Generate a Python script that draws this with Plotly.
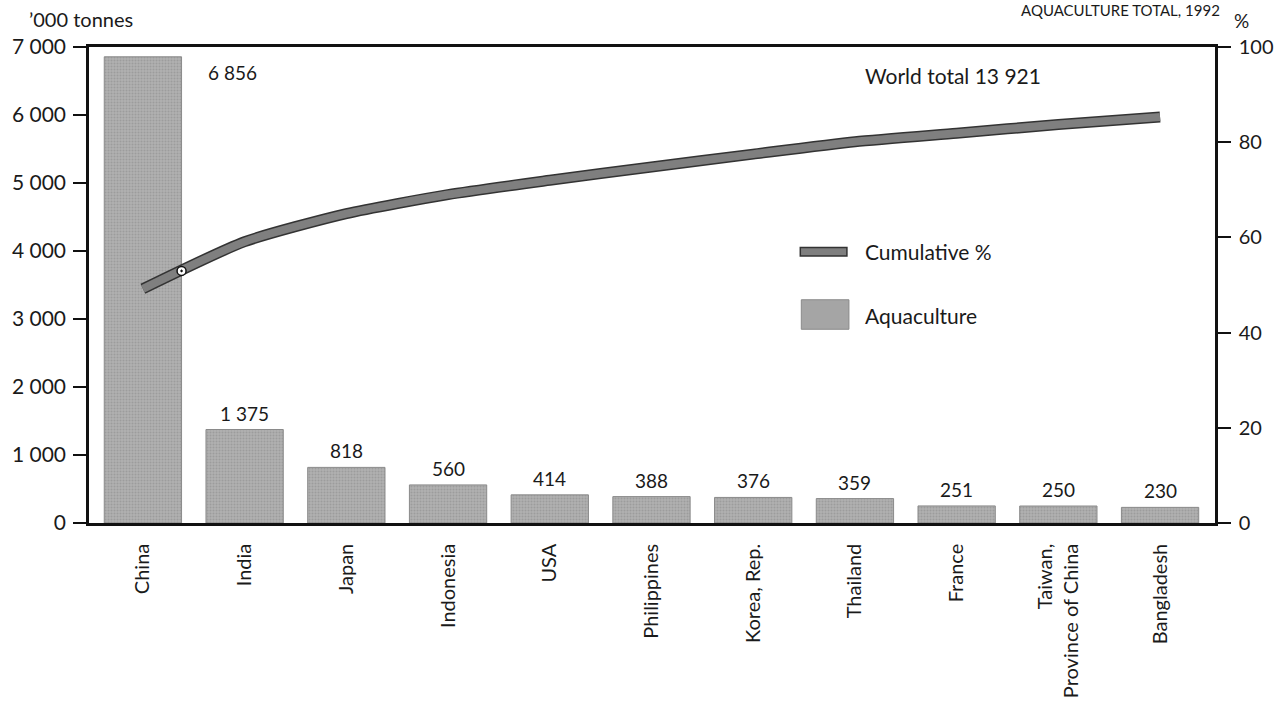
import numpy as np
import plotly.graph_objects as go

# Aquaculture production by country ('000 tonnes) and cumulative share of world total (%)
countries = ["China", "India", "Japan", "Indonesia", "USA", "Philippines",
             "Korea, Rep.", "Thailand", "France", "Taiwan,<br>Province of China",
             "Bangladesh"]
production = [6856, 1375, 818, 560, 414, 388, 376, 359, 251, 250, 230]
value_labels = ["6 856", "1 375", "818", "560", "414", "388", "376", "359", "251", "250", "230"]
cumulative_pct = [49.2, 59.1, 65.0, 69.0, 72.0, 74.8, 77.5, 80.1, 81.9, 83.7, 85.3]
world_total_label = "World total 13 921"

left_tickvals = [0, 1000, 2000, 3000, 4000, 5000, 6000, 7000]
left_ticktext = ["0", "1 000", "2 000", "3 000", "4 000", "5 000", "6 000", "7 000"]
right_tickvals = [0, 20, 40, 60, 80, 100]
right_ticktext = ["0", "20", "40", "60", "80", "100"]

FONT = "Lato"
INK = "#1a1a1a"
BAR_W = 0.76
LINE_CORE = "#7f7f7f"
LINE_EDGE = "#333333"

x = list(range(len(countries)))

fig = go.Figure()

fig.add_trace(go.Bar(
    x=x, y=production, width=BAR_W, yaxis="y",
    marker=dict(color="#a5a5a5",
                line=dict(color="#8a8a8a", width=1),
                pattern=dict(shape=".", fgcolor="#888888", bgcolor="#b0b0b0",
                             size=3, solidity=0.35)),
    showlegend=False, hoverinfo="skip",
))

# cumulative line: dark casing under a grey core
fig.add_trace(go.Scatter(
    x=x, y=cumulative_pct, yaxis="y2", mode="lines",
    line=dict(color=LINE_EDGE, width=11, shape="spline", smoothing=0.6),
    showlegend=False, hoverinfo="skip",
))
fig.add_trace(go.Scatter(
    x=x, y=cumulative_pct, yaxis="y2", mode="lines",
    line=dict(color=LINE_CORE, width=8, shape="spline", smoothing=0.6),
    showlegend=False, hoverinfo="skip",
))

# small ring marker where the line leaves the first bar
edge_x = x[0] + BAR_W / 2
edge_y = float(np.interp(edge_x, x, cumulative_pct))
fig.add_trace(go.Scatter(
    x=[edge_x], y=[edge_y], yaxis="y2", mode="markers",
    marker=dict(symbol="circle-dot", size=9, color="white",
                line=dict(color="#111", width=1.5)),
    showlegend=False, hoverinfo="skip",
))

annotations = []
for i, (v, lab) in enumerate(zip(production, value_labels)):
    if i == 0:
        annotations.append(dict(x=i + BAR_W / 2, y=v, xref="x", yref="y", text=lab,
                                showarrow=False, xanchor="left", yanchor="top",
                                xshift=24, yshift=-2,
                                font=dict(family=FONT, size=19, color=INK)))
    else:
        annotations.append(dict(x=i, y=v, xref="x", yref="y", text=lab,
                                showarrow=False, xanchor="center", yanchor="bottom",
                                yshift=3,
                                font=dict(family=FONT, size=19, color=INK)))

annotations += [
    dict(x=0.687, y=0.94, xref="paper", yref="paper", text=world_total_label,
         showarrow=False, xanchor="left", yanchor="middle",
         font=dict(family=FONT, size=21, color=INK)),
    dict(x=0.687, y=0.571, xref="paper", yref="paper", text="Cumulative %",
         showarrow=False, xanchor="left", yanchor="middle",
         font=dict(family=FONT, size=21, color=INK)),
    dict(x=0.687, y=0.435, xref="paper", yref="paper", text="Aquaculture",
         showarrow=False, xanchor="left", yanchor="middle",
         font=dict(family=FONT, size=21, color=INK)),
    dict(x=-0.055, y=1.0, xref="paper", yref="paper", text="’000 tonnes",
         showarrow=False, xanchor="left", yanchor="bottom", yshift=14,
         font=dict(family=FONT, size=20, color=INK)),
    dict(x=1.0, y=1.0, xref="paper", yref="paper", text="%",
         showarrow=False, xanchor="left", yanchor="bottom", xshift=17, yshift=13,
         font=dict(family=FONT, size=19, color=INK)),
    dict(x=1.006, y=1.0, xref="paper", yref="paper", text="AQUACULTURE TOTAL, 1992",
         showarrow=False, xanchor="right", yanchor="top", yshift=48,
         font=dict(family=FONT, size=15, color=INK)),
]

shapes = [
    # legend swatches
    dict(type="rect", xref="paper", yref="paper", x0=0.6317, x1=0.6731,
         y0=0.561, y1=0.579, fillcolor=LINE_CORE, line=dict(color=LINE_EDGE, width=1.5)),
    dict(type="rect", xref="paper", yref="paper", x0=0.6326, x1=0.6749,
         y0=0.407, y1=0.469, fillcolor="#a5a5a5", line=dict(color="#8a8a8a", width=1)),
]

fig.update_layout(
    width=1286, height=710,
    margin=dict(l=88, r=63, t=47, b=183),
    paper_bgcolor="white", plot_bgcolor="white",
    font=dict(family=FONT, size=20, color=INK),
    xaxis=dict(
        range=[-0.53, 10.54], tickmode="array", tickvals=x, ticktext=countries,
        tickangle=-90, showgrid=False, zeroline=False,
        showline=True, mirror=True, linecolor="#111", linewidth=2.5,
        ticks="", ticklabelstandoff=10,
        tickfont=dict(family=FONT, size=20, color=INK),
    ),
    yaxis=dict(
        range=[0, 7000], tickmode="array", tickvals=left_tickvals, ticktext=left_ticktext,
        showgrid=False, zeroline=False, showline=True, linecolor="#111", linewidth=2.5,
        ticks="outside", ticklen=13, tickwidth=1.5, tickcolor="#111",
        tickfont=dict(family=FONT, size=21, color=INK), ticklabelstandoff=3,
    ),
    yaxis2=dict(
        range=[0, 100], overlaying="y", side="right",
        tickmode="array", tickvals=right_tickvals, ticktext=right_ticktext,
        showgrid=False, zeroline=False, showline=True, linecolor="#111", linewidth=2.5,
        ticks="outside", ticklen=13, tickwidth=1.5, tickcolor="#111",
        tickfont=dict(family=FONT, size=20, color=INK), ticklabelstandoff=4,
    ),
    annotations=annotations,
    shapes=shapes,
)

fig.write_html("out.html")
